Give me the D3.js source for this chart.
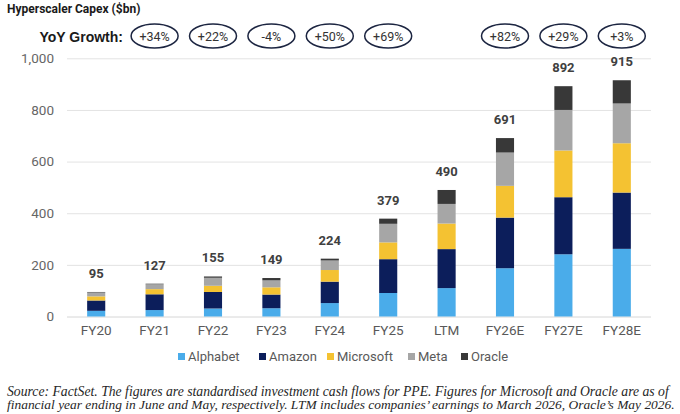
<!DOCTYPE html>
<html>
<head>
<meta charset="utf-8">
<script src="https://cdn.jsdelivr.net/npm/d3@7"></script>
<style>
  body { margin: 0; background: #fff; }
  svg { display: block; }
</style>
</head>
<body>
<div id="chart"></div>
<script>
// data ($bn)
const categories = ["FY20", "FY21", "FY22", "FY23", "FY24", "FY25", "LTM", "FY26E", "FY27E", "FY28E"];
const companies = ["Alphabet", "Amazon", "Microsoft", "Meta", "Oracle"];
const alphabet  = [22, 25, 31, 32, 52, 91, 110, 187, 241, 262];
const amazon    = [40, 61, 64, 53, 83, 131, 151, 196, 221, 218];
const microsoft = [16, 20, 24, 28, 45, 65, 99, 123, 181, 191];
const meta      = [15, 19, 31, 27, 37, 72, 76, 129, 157, 154];
const oracle    = [2, 2, 5, 9, 7, 20, 54, 56, 92, 90];
const totals    = [95, 127, 155, 149, 224, 379, 490, 691, 892, 915];
const growthCats = ["FY21", "FY22", "FY23", "FY24", "FY25", "FY26E", "FY27E", "FY28E"];
const growthLabels = ["+34%", "+22%", "-4%", "+50%", "+69%", "+82%", "+29%", "+3%"];
const yTicks = [0, 200, 400, 600, 800, 1000];

const colors = ["#4aacea", "#0c1e5b", "#f4c232", "#a6a6a6", "#383838"];
const sans = "Roboto, 'Liberation Sans', sans-serif";

const W = 680, H = 414;
const svg = d3.select("#chart").append("svg")
  .attr("width", W)
  .attr("height", H);

const x = d3.scaleBand()
  .domain(categories)
  .range([67, 651])
  .paddingInner(0.69)
  .paddingOuter(0.345);

const y = d3.scaleLinear()
  .domain([0, 1000])
  .range([316.5, 58.3]);

// stack the series
const table = categories.map((c, i) => ({
  cat: c,
  Alphabet: alphabet[i], Amazon: amazon[i], Microsoft: microsoft[i], Meta: meta[i], Oracle: oracle[i]
}));
const series = d3.stack().keys(companies)(table);

// gridlines + y labels
const yAxis = svg.append("g")
  .attr("transform", "translate(67,0)")
  .call(d3.axisLeft(y).tickValues(yTicks).tickSize(-584).tickPadding(13).tickFormat(d3.format(",")));
yAxis.select(".domain").remove();
yAxis.selectAll(".tick line").attr("stroke", "#e3e3e3").attr("stroke-width", 1);
yAxis.selectAll(".tick text")
  .attr("fill", "#666")
  .attr("font-size", 13.5)
  .attr("font-family", sans);
yAxis.selectAll(".tick").filter(d => d === 0).select("line").attr("stroke", "#d6d6d6");

// bars
svg.append("g").selectAll("g")
  .data(series)
  .join("g")
  .attr("fill", (d, i) => colors[i])
  .selectAll("rect")
  .data(d => d)
  .join("rect")
  .attr("x", d => x(d.data.cat))
  .attr("width", x.bandwidth())
  .attr("y", d => y(d[1]))
  .attr("height", d => y(d[0]) - y(d[1]));

// totals
svg.append("g").selectAll("text")
  .data(categories)
  .join("text")
  .attr("x", d => x(d) + x.bandwidth() / 2)
  .attr("y", (d, i) => y(totals[i]) - 14)
  .attr("text-anchor", "middle")
  .attr("font-family", sans)
  .attr("font-weight", "bold")
  .attr("font-size", 13)
  .attr("fill", "#404040")
  .text((d, i) => totals[i]);

// x labels
const xAxis = svg.append("g")
  .attr("transform", "translate(0,316.5)")
  .call(d3.axisBottom(x).tickSize(0).tickPadding(9));
xAxis.select(".domain").remove();
xAxis.selectAll(".tick text")
  .attr("fill", "#595959")
  .attr("font-size", 13.5)
  .attr("font-family", sans);

// title
svg.append("text")
  .attr("x", 7).attr("y", 12.7)
  .attr("font-family", sans)
  .attr("font-weight", "bold")
  .attr("font-size", 12)
  .attr("fill", "#1a1a1a")
  .text("Hyperscaler Capex ($bn)");

// YoY growth row
svg.append("text")
  .attr("x", 123).attr("y", 41.5)
  .attr("text-anchor", "end")
  .attr("font-family", "'Liberation Sans', Arial, sans-serif")
  .attr("font-weight", "bold")
  .attr("font-size", 14)
  .attr("fill", "#1a1a1a")
  .text("YoY Growth:");

const growth = svg.append("g").selectAll("g")
  .data(growthCats)
  .join("g")
  .attr("transform", d => "translate(" + (x(d) + x.bandwidth() / 2) + ",36)");
growth.append("ellipse")
  .attr("rx", 23.5).attr("ry", 12)
  .attr("fill", "none")
  .attr("stroke", "#1c2541")
  .attr("stroke-width", 1.5);
growth.append("text")
  .attr("y", 4.5)
  .attr("text-anchor", "middle")
  .attr("font-family", sans)
  .attr("font-size", 12.5)
  .attr("fill", "#333")
  .text((d, i) => growthLabels[i]);

// legend
const legendX = [178, 259, 327, 408, 461];
const legend = svg.append("g").selectAll("g")
  .data(companies)
  .join("g")
  .attr("transform", (d, i) => "translate(" + legendX[i] + ",356.5)");
legend.append("rect")
  .attr("x", 0).attr("y", -3.5)
  .attr("width", 7).attr("height", 7)
  .attr("fill", (d, i) => colors[i]);
legend.append("text")
  .attr("x", 10).attr("y", 4.5)
  .attr("font-family", sans)
  .attr("font-size", 13)
  .attr("fill", "#595959")
  .text(d => d);

// footnote, scaled to fit the line widths
const notes = [
  {t: "Source: FactSet. The figures are standardised investment cash flows for PPE. Figures for Microsoft and Oracle are as of", y: 395.5, w: 662},
  {t: "financial year ending in June and May, respectively. LTM includes companies\u2019 earnings to March 2026, Oracle\u2019s May 2026.", y: 409, w: 668}
];
svg.append("g").selectAll("text")
  .data(notes)
  .join("text")
  .attr("x", 7)
  .attr("y", d => d.y)
  .attr("font-family", "'Liberation Serif', 'Times New Roman', serif")
  .attr("font-style", "italic")
  .attr("font-size", 13)
  .attr("fill", "#262626")
  .text(d => d.t)
  .each(function (d) {
    const len = this.getComputedTextLength();
    d3.select(this).attr("font-size", 13 * d.w / len);
  });
</script>
</body>
</html>
